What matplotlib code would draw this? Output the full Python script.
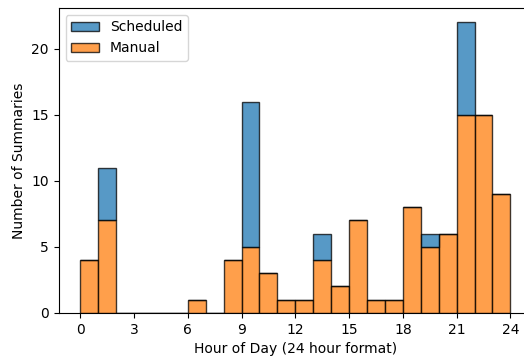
import numpy as np
import matplotlib
matplotlib.use("Agg")
import matplotlib.pyplot as plt

hours = np.arange(24)
manual = [4, 7, 0, 0, 0, 0, 1, 0, 4, 5, 3, 1, 1, 4, 2, 7, 1, 1, 8, 5, 6, 15, 15, 9]
scheduled = [0, 4, 0, 0, 0, 0, 0, 0, 0, 11, 0, 0, 0, 2, 0, 0, 0, 0, 0, 1, 0, 7, 0, 0]

BLUE, ORANGE = "#1f77b4", "#ff7f0e"

fig, ax = plt.subplots(figsize=(5.24, 3.58), dpi=100)
ax.bar(hours, manual, width=1, align="edge", color=ORANGE, alpha=0.75,
       edgecolor="black", linewidth=1, label="Manual")
ax.bar(hours, scheduled, width=1, align="edge", bottom=manual, color=BLUE, alpha=0.75,
       edgecolor="black", linewidth=1, label="Scheduled")
# edges fully opaque
for p in ax.patches:
    p.set_edgecolor((0, 0, 0, 1))

ax.set_xticks(range(0, 25, 3))
ax.set_yticks([0, 5, 10, 15, 20])
ax.set_xlabel("Hour of Day (24 hour format)")
ax.set_ylabel("Number of Summaries")
h, l = ax.get_legend_handles_labels()
ax.legend(h[::-1], l[::-1], loc="upper left")
fig.subplots_adjust(left=0.112, right=1.015, top=0.978, bottom=0.126)
fig.savefig("out.png", dpi=100)
